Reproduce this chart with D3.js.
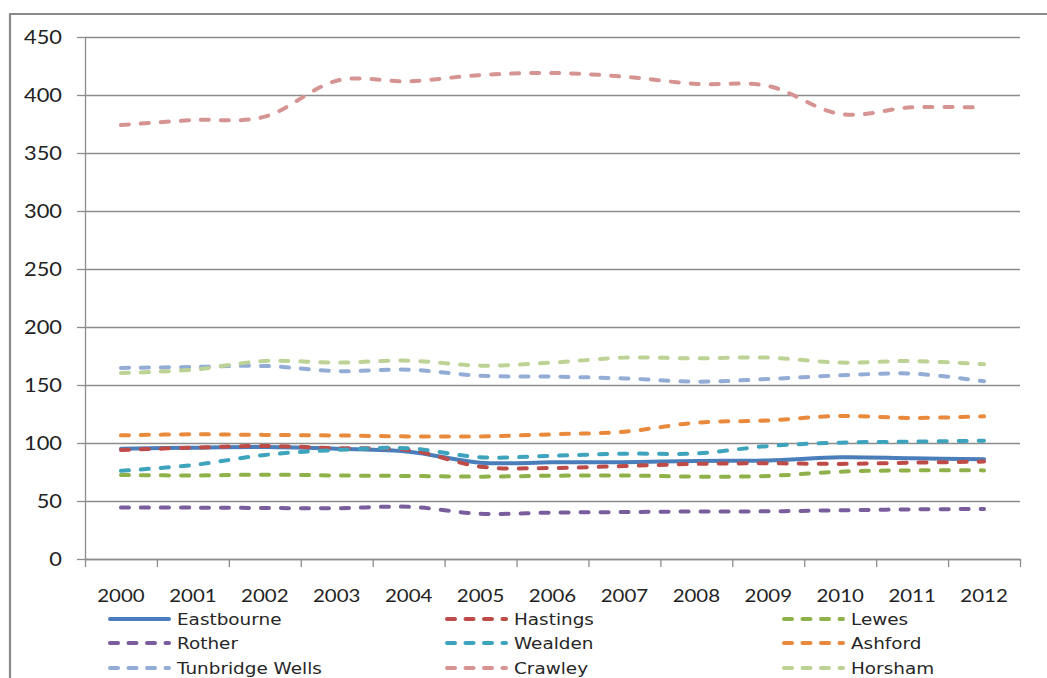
<!DOCTYPE html>
<html>
<head>
<meta charset="utf-8">
<script src="https://cdn.jsdelivr.net/npm/d3@7"></script>
<style>
  html, body { margin: 0; padding: 0; background: #fff; }
  svg { display: block; }
</style>
</head>
<body>
<svg id="chart" width="1047" height="678"></svg>
<script>
// Annual values per district, 2000–2012
const years = ["2000","2001","2002","2003","2004","2005","2006","2007","2008","2009","2010","2011","2012"];
const eastbourne     = [95, 96, 96.5, 95, 92.5, 83, 83.3, 83.5, 84.5, 85, 87.7, 86.8, 86];
const hastings       = [94, 96, 97.5, 95.5, 94, 79.6, 78.5, 80.2, 82, 82.5, 82, 83, 84];
const lewes          = [72.5, 72, 72.7, 72, 71.6, 71, 71.8, 72, 71, 71.6, 75.3, 76.4, 76.4];
const rother         = [44.3, 44.3, 44, 43.7, 45, 39, 40, 40.5, 41, 41.1, 42, 42.8, 43.1];
const wealden        = [76, 81, 89.7, 94, 95.5, 87.7, 89, 90.8, 91, 97.4, 100.3, 101.2, 102];
const ashford        = [106.6, 107.5, 107, 106.5, 105.7, 105.7, 107.5, 109.8, 117.5, 119.5, 123.3, 121.6, 123];
const tunbridgeWells = [164.7, 165.5, 166.4, 162, 163.2, 158, 157.2, 155.7, 152.9, 155.2, 158.3, 159.8, 153.2];
const crawley        = [374.1, 378.4, 381.3, 412.3, 411.8, 417.2, 419, 415.8, 409.5, 407.8, 383.6, 389.4, 389.1];
const horsham        = [160.3, 163.2, 170.7, 169.3, 171, 166.7, 169.3, 173.6, 173, 173.6, 169.3, 170.7, 167.8];
const yTicks = [0, 50, 100, 150, 200, 250, 300, 350, 400, 450];

const series = [
  { name: "Eastbourne",      values: eastbourne,     color: "#4a7ebb", dashed: false },
  { name: "Hastings",        values: hastings,       color: "#be4b48", dashed: true },
  { name: "Lewes",           values: lewes,          color: "#8fb14a", dashed: true },
  { name: "Rother",          values: rother,         color: "#7a5d9c", dashed: true },
  { name: "Wealden",         values: wealden,        color: "#3ea3bd", dashed: true },
  { name: "Ashford",         values: ashford,        color: "#e8893c", dashed: true },
  { name: "Tunbridge Wells", values: tunbridgeWells, color: "#92acd6", dashed: true },
  { name: "Crawley",         values: crawley,        color: "#d59391", dashed: true },
  { name: "Horsham",         values: horsham,        color: "#bcd395", dashed: true }
];

const svg = d3.select("#chart");
const plotLeft = 85, plotRight = 1020, plotTop = 37, plotBottom = 559;

// outer frame (top and left edges)
svg.append("path")
  .attr("d", `M10,678 L10,14 L1047,14`)
  .attr("fill", "none").attr("stroke", "#8a8a8a").attr("stroke-width", 2.2);

const x = d3.scaleBand().domain(years).range([plotLeft, plotRight]).paddingInner(0).paddingOuter(0);
const xEdge = d3.scaleLinear().domain([0, years.length]).range([plotLeft, plotRight]);
const y = d3.scaleLinear().domain([0, 450]).range([plotBottom, plotTop]);

const gridColor = "#8c8c8c";

// horizontal gridlines with tick marks on the left
const yAxis = svg.append("g")
  .attr("transform", `translate(${plotLeft},0)`)
  .call(d3.axisLeft(y).tickValues(yTicks).tickSize(8).tickSizeOuter(0).tickFormat(""));
yAxis.select(".domain").attr("stroke", gridColor).attr("stroke-width", 1.3);
yAxis.selectAll(".tick line").attr("stroke", gridColor).attr("stroke-width", 1.3);
yAxis.selectAll(".tick").append("line")
  .attr("x1", 0).attr("x2", plotRight - plotLeft)
  .attr("stroke", gridColor).attr("stroke-width", 1.3);

// y tick labels
const yLab = svg.append("g");
yTicks.forEach(v => {
  yLab.append("text")
    .attr("transform", `translate(62,${y(v)}) scale(1.12,1)`)
    .attr("text-anchor", "end")
    .attr("dy", "0.36em")
    .attr("font-family", "Lato, 'Open Sans', sans-serif")
    .attr("font-size", 19.5)
    .attr("fill", "#222")
    .text(v);
});

// x axis: boundary ticks
const xAxis = svg.append("g")
  .attr("transform", `translate(0,${plotBottom})`)
  .call(d3.axisBottom(xEdge).tickValues(d3.range(years.length + 1)).tickSize(8).tickSizeOuter(0).tickFormat(""));
xAxis.select(".domain").attr("stroke", gridColor).attr("stroke-width", 1.3);
xAxis.selectAll(".tick line").attr("stroke", gridColor).attr("stroke-width", 1.3);

// x labels centred in each band
const xLab = svg.append("g");
years.forEach(yr => {
  xLab.append("text")
    .attr("transform", `translate(${x(yr) + x.bandwidth() / 2},596) scale(1.24,1)`)
    .attr("text-anchor", "middle")
    .attr("dy", "0.36em")
    .attr("font-family", "Lato, 'Open Sans', sans-serif")
    .attr("font-size", 16.5)
    .attr("fill", "#222")
    .text(yr);
});

// smoothed lines
const line = d3.line()
  .x((d, i) => x(years[i]) + x.bandwidth() / 2)
  .y(d => y(d))
  .curve(d3.curveCatmullRom.alpha(0));

const lines = svg.append("g");
series.forEach(s => {
  lines.append("path")
    .datum(s.values)
    .attr("d", line)
    .attr("fill", "none")
    .attr("stroke", s.color)
    .attr("stroke-width", 4)
    .attr("stroke-linecap", "round")
    .attr("stroke-linejoin", "round")
    .attr("stroke-dasharray", s.dashed ? "8,12" : null);
});

// legend: three columns, three rows
const colX = [108, 445, 782];
const rowY = [619, 643, 668];
const legend = svg.append("g");
series.forEach((s, i) => {
  const cx = colX[i % 3], cy = rowY[Math.floor(i / 3)];
  legend.append("line")
    .attr("x1", cx + 2).attr("x2", cx + 61)
    .attr("y1", cy).attr("y2", cy)
    .attr("stroke", s.color)
    .attr("stroke-width", 4)
    .attr("stroke-linecap", "round")
    .attr("stroke-dasharray", s.dashed ? "8,10.5" : null);
  legend.append("text")
    .attr("transform", `translate(${cx + 69},${cy}) scale(1.15,1)`)
    .attr("dy", "0.36em")
    .attr("font-family", "'DejaVu Sans', sans-serif")
    .attr("font-size", 16)
    .attr("fill", "#262626")
    .text(s.name);
});
</script>
</body>
</html>
